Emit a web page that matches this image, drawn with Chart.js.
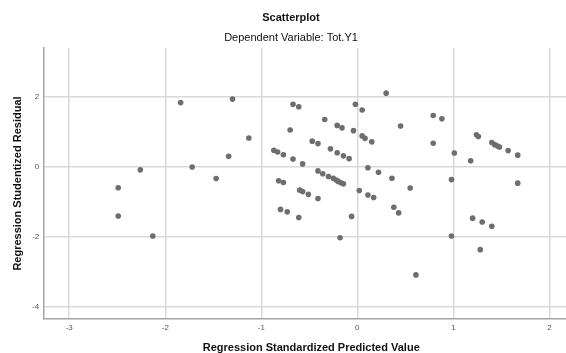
<!DOCTYPE html>
<html>
<head>
<meta charset="utf-8">
<script src="https://cdn.jsdelivr.net/npm/chart.js@4.4.1/dist/chart.umd.min.js"></script>
<style>
  html, body { margin: 0; padding: 0; background: #fff; overflow: hidden; }
  #wrap { width: 582px; height: 353px; }
</style>
</head>
<body>
<div id="wrap"><canvas id="scatterChart" width="582" height="353"></canvas></div>
<script>
// standardized predicted value (x) and studentized residual (y)
const predicted = [
  -2.49, -2.26, -1.84, -1.72, -2.49, -2.13, -1.30, -1.13, -1.34, -1.47,
  -0.67, -0.61, -0.70, -0.34, -0.21, -0.16, -0.47, -0.41, -0.87, -0.83,
  -0.77, -0.67, -0.57, -0.28, -0.21, -0.145, -0.086, -0.02, 0.05, -0.04,
  0.05, 0.08, 0.15, 0.30, 0.11, 0.22, -0.41, -0.36, -0.30, -0.25,
  -0.22, -0.20, -0.17, -0.145, -0.82, -0.77, -0.60, -0.57, -0.51, -0.41,
  0.02, 0.11, 0.17, -0.80, -0.73, -0.61, -0.06, -0.18, 0.45, 0.79,
  0.88, 0.79, 1.01, 1.18, 1.24, 1.26, 1.40, 1.43, 1.46, 1.48,
  1.57, 1.67, 1.67, 0.36, 0.55, 0.98, 0.38, 0.43, 0.98, 0.61,
  1.20, 1.30, 1.40, 1.28
];
const residual = [
  -0.60, -0.09, 1.83, -0.01, -1.41, -1.98, 1.93, 0.82, 0.30, -0.34,
  1.78, 1.71, 1.05, 1.35, 1.18, 1.11, 0.73, 0.66, 0.47, 0.42,
  0.34, 0.22, 0.08, 0.51, 0.40, 0.31, 0.23, 1.78, 1.62, 1.03,
  0.88, 0.81, 0.71, 2.10, -0.03, -0.16, -0.12, -0.20, -0.28, -0.33,
  -0.38, -0.42, -0.46, -0.49, -0.40, -0.45, -0.67, -0.71, -0.79, -0.91,
  -0.68, -0.81, -0.88, -1.22, -1.29, -1.45, -1.42, -2.03, 1.16, 1.46,
  1.37, 0.67, 0.39, 0.17, 0.91, 0.86, 0.69, 0.63, 0.59, 0.56,
  0.46, 0.33, -0.47, -0.33, -0.61, -0.37, -1.16, -1.32, -1.98, -3.09,
  -1.47, -1.58, -1.70, -2.37
];
const xTicks = [-3, -2, -1, 0, 1, 2];
const yTicks = [-4, -2, 0, 2];

const points = predicted.map((x, i) => ({ x: x, y: residual[i] }));

const gridColor = '#d9d9d9';
const axisColor = '#a6a6a6';

const data = {
  datasets: [{
    label: 'Residuals',
    data: points,
    backgroundColor: '#6e6e6e',
    borderWidth: 0,
    pointRadius: 2.8,
    pointHoverRadius: 2.8
  }]
};

const config = {
  type: 'scatter',
  data,
  options: {
    responsive: false,
    animation: false,
    layout: { padding: 0 },
    plugins: {
      legend: { display: false },
      tooltip: { enabled: false },
      title: {
        display: true,
        text: 'Scatterplot',
        color: '#111',
        font: { family: 'Liberation Sans, Arial, sans-serif', size: 11, weight: 'bold', lineHeight: 1.2 },
        padding: { top: 11.4, bottom: 0 }
      },
      subtitle: {
        display: true,
        text: 'Dependent Variable: Tot.Y1',
        color: '#111',
        font: { family: 'Liberation Sans, Arial, sans-serif', size: 11, lineHeight: 1.2 },
        padding: { top: 6.8, bottom: 3.4 }
      }
    },
    scales: {
      x: {
        type: 'linear',
        min: -3.27,
        max: 2.31,
        afterFit: (scale) => { scale.height = 34; },
        afterBuildTicks: (scale) => { scale.ticks = xTicks.map(v => ({ value: v })); },
        ticks: {
          includeBounds: false,
          padding: 4,
          color: '#555',
          font: { family: 'Liberation Sans, Arial, sans-serif', size: 8 }
        },
        grid: { color: gridColor, lineWidth: 1.5, drawTicks: false },
        border: { display: true, color: axisColor, width: 1.5 },
        title: {
          display: true,
          text: 'Regression Standardized Predicted Value',
          color: '#111',
          font: { family: 'Liberation Sans, Arial, sans-serif', size: 11, weight: 'bold', lineHeight: 1 },
          padding: { top: 0, bottom: 0 }
        }
      },
      y: {
        type: 'linear',
        min: -4.35,
        max: 3.39,
        afterFit: (scale) => { scale.width = 43.3; },
        afterBuildTicks: (scale) => { scale.ticks = yTicks.map(v => ({ value: v })); },
        ticks: {
          includeBounds: false,
          padding: 4,
          color: '#555',
          font: { family: 'Liberation Sans, Arial, sans-serif', size: 8 }
        },
        grid: { color: gridColor, lineWidth: 1.5, drawTicks: false },
        border: { display: true, color: axisColor, width: 1.5 },
        title: {
          display: true,
          text: 'Regression Studentized Residual',
          color: '#111',
          font: { family: 'Liberation Sans, Arial, sans-serif', size: 11, weight: 'bold', lineHeight: 1 },
          padding: { top: 12, bottom: 0 }
        }
      }
    }
  }
};

var scatterChart = new Chart(document.getElementById('scatterChart'), config);
</script>
</body>
</html>
